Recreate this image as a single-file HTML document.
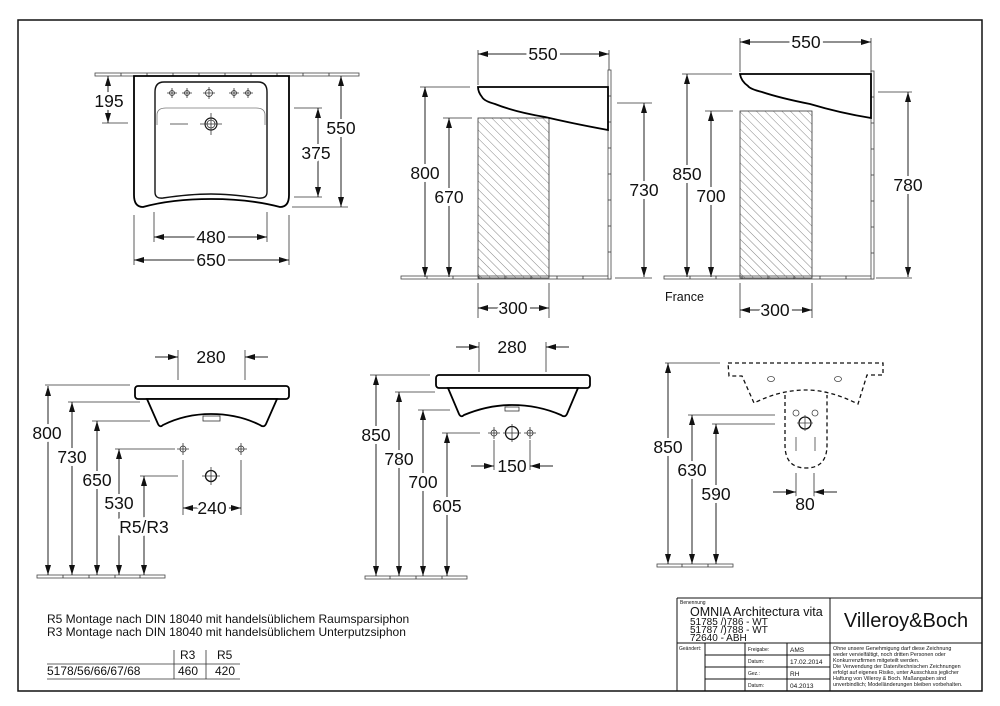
<!DOCTYPE html>
<html><head><meta charset="utf-8"><style>
html,body{margin:0;padding:0;background:#fff;}
svg{display:block;}
text{font-family:"Liberation Sans",Arial,sans-serif;fill:#111;}
.d{font-size:17.5px;text-anchor:middle;paint-order:stroke;stroke:#fff;stroke-width:6px;stroke-linejoin:round;}
.dl{stroke:#222;stroke-width:1;fill:none;}
.ex{stroke:#333;stroke-width:0.8;fill:none;}
.thk{stroke:#000;stroke-width:1.8;fill:#fff;}
.tile{fill:#fff;stroke:#444;stroke-width:0.8;}
.hat{fill:url(#h);stroke:#333;stroke-width:0.8;}
.dash{stroke:#111;stroke-width:1.3;fill:none;stroke-dasharray:4 3;}
</style></head><body>
<svg width="1000" height="706" viewBox="0 0 1000 706" xmlns="http://www.w3.org/2000/svg">
<defs>
<marker id="a" viewBox="0 0 10 6" refX="10" refY="3" markerWidth="10" markerHeight="6" markerUnits="userSpaceOnUse" orient="auto-start-reverse"><path d="M0,0L10,3L0,6z" fill="#111"/></marker>
<pattern id="h" width="6" height="6" patternUnits="userSpaceOnUse" patternTransform="rotate(-45)"><line x1="0" y1="0" x2="0" y2="6" stroke="#666" stroke-width="0.8"/></pattern>
</defs>
<rect x="18" y="20" width="964" height="671" fill="none" stroke="#111" stroke-width="1.5"/>

<!-- TOP LEFT PLAN -->
<g>
<rect class="tile" x="95" y="73" width="264" height="3"/>
<path class="ex" d="M121 73v3M147 73v3M173 73v3M199 73v3M225 73v3M251 73v3M277 73v3M303 73v3M329 73v3"/>
<path class="thk" d="M134 76H289V195Q289 207 280 207Q250 199 211 199Q172 199 143 207Q134 207 134 195Z"/>
<path d="M164 82H258Q267 82 267 92V192Q267 199 258 198Q230 194 211 194Q190 194 163 198Q155 199 155 192V92Q155 82 164 82Z" fill="none" stroke="#111" stroke-width="1.4"/>
<path d="M157 125V115Q157 108 166 108H256Q265 108 265 115V125" fill="none" stroke="#777" stroke-width="0.8"/>
<g fill="none" stroke="#333" stroke-width="0.8">
<circle cx="172" cy="93" r="2.5"/><circle cx="187" cy="93" r="2.5"/><circle cx="209" cy="93" r="3.5"/><circle cx="234" cy="93" r="2.5"/><circle cx="248" cy="93" r="2.5"/>
<path d="M167 93h10M172 88v10M182 93h10M187 88v10M203 93h12M209 87v12M229 93h10M234 88v10M243 93h10M248 88v10"/>
<circle cx="211" cy="124" r="6" stroke="#111" stroke-width="1.2"/><circle cx="211" cy="124" r="4"/>
<path d="M200 124h22M211 113v22M170 124h18" stroke="#333"/>
</g>
<path class="ex" d="M102 123H128M294 108H322M294 197H322M292 207H348M154 212V242M267 212V242M134 215V265M289 215V265"/>
<line class="dl" x1="108" y1="76" x2="108" y2="123" marker-start="url(#a)" marker-end="url(#a)"/>
<text class="d" x="109" y="107">195</text>
<line class="dl" x1="341" y1="76" x2="341" y2="207" marker-start="url(#a)" marker-end="url(#a)"/>
<text class="d" x="341" y="134">550</text>
<line class="dl" x1="318" y1="108" x2="318" y2="197" marker-start="url(#a)" marker-end="url(#a)"/>
<text class="d" x="316" y="159">375</text>
<line class="dl" x1="154" y1="237" x2="267" y2="237" marker-start="url(#a)" marker-end="url(#a)"/>
<text class="d" x="211" y="243">480</text>
<line class="dl" x1="134" y1="260" x2="289" y2="260" marker-start="url(#a)" marker-end="url(#a)"/>
<text class="d" x="211" y="266">650</text>
</g>

<!-- TOP MIDDLE SIDE -->
<g>
<rect class="tile" x="401" y="276" width="210" height="3"/>
<path class="ex" d="M427 276v3M453 276v3M479 276v3M505 276v3M531 276v3M557 276v3M583 276v3"/>
<rect class="tile" x="608" y="70" width="3" height="209"/>
<path class="ex" d="M608 96h3M608 122h3M608 148h3M608 174h3M608 200h3M608 226h3M608 252h3"/>
<rect class="hat" x="478" y="118" width="71" height="160"/>
<path class="thk" d="M478 87H608V130Q575 124 545 117Q515 112 495 104Q484 101 482 97Q478 92 478 87Z"/>
<path class="ex" d="M478 50V85M609 50V70M420 87H470M443 118H472M617 103H652M615 278H652M478 283V318M549 283V318"/>
<line class="dl" x1="478" y1="54" x2="609" y2="54" marker-start="url(#a)" marker-end="url(#a)"/>
<text class="d" x="543" y="60">550</text>
<line class="dl" x1="425" y1="87" x2="425" y2="277" marker-start="url(#a)" marker-end="url(#a)"/>
<text class="d" x="425" y="179">800</text>
<line class="dl" x1="449" y1="118" x2="449" y2="277" marker-start="url(#a)" marker-end="url(#a)"/>
<text class="d" x="449" y="203">670</text>
<line class="dl" x1="644" y1="103" x2="644" y2="277" marker-start="url(#a)" marker-end="url(#a)"/>
<text class="d" x="644" y="196">730</text>
<line class="dl" x1="478" y1="308" x2="549" y2="308" marker-start="url(#a)" marker-end="url(#a)"/>
<text class="d" x="513" y="314">300</text>
</g>

<!-- TOP RIGHT SIDE -->
<g>
<rect class="tile" x="664" y="276" width="209" height="3"/>
<path class="ex" d="M690 276v3M716 276v3M742 276v3M768 276v3M794 276v3M820 276v3M846 276v3"/>
<rect class="tile" x="871" y="71" width="3" height="208"/>
<path class="ex" d="M871 97h3M871 123h3M871 149h3M871 175h3M871 201h3M871 227h3M871 253h3"/>
<rect class="hat" x="740" y="111" width="72" height="167"/>
<path class="thk" d="M740 74H871V118Q840 113 810 104Q780 98 762 92Q750 89 748 86Q741 81 740 74Z"/>
<path class="ex" d="M740 38V72M871 38V72M682 74H732M705 111H733M878 92H912M876 278H912M740 283V318M812 283V318"/>
<line class="dl" x1="740" y1="42" x2="871" y2="42" marker-start="url(#a)" marker-end="url(#a)"/>
<text class="d" x="806" y="48">550</text>
<line class="dl" x1="687" y1="74" x2="687" y2="277" marker-start="url(#a)" marker-end="url(#a)"/>
<text class="d" x="687" y="180">850</text>
<line class="dl" x1="711" y1="111" x2="711" y2="277" marker-start="url(#a)" marker-end="url(#a)"/>
<text class="d" x="711" y="202">700</text>
<line class="dl" x1="908" y1="92" x2="908" y2="277" marker-start="url(#a)" marker-end="url(#a)"/>
<text class="d" x="908" y="191">780</text>
<line class="dl" x1="740" y1="310" x2="812" y2="310" marker-start="url(#a)" marker-end="url(#a)"/>
<text class="d" x="775" y="316">300</text>
<text x="665" y="301" style="font-size:12.5px">France</text>
</g>

<!-- BOTTOM LEFT -->
<g>
<rect class="tile" x="37" y="575" width="128" height="3"/>
<path class="ex" d="M63 575v3M89 575v3M115 575v3M140 575v3"/>
<rect x="135" y="386" width="154" height="13" rx="3" class="thk"/>
<path class="thk" d="M147 399L158 424Q160 428 163 425Q185 414 211 414Q238 414 260 425Q264 428 266 424L277 399Z"/>
<rect x="203" y="416" width="17" height="5" fill="none" stroke="#333" stroke-width="0.8"/>
<path class="ex" d="M178 350V380M245 350V380M45 385H130M68 402H140M92 421H150M115 449H175M140 476H178M183 460V515M241 460V515"/>
<line class="dl" x1="155" y1="357" x2="178" y2="357" marker-end="url(#a)"/>
<line class="dl" x1="268" y1="357" x2="245" y2="357" marker-end="url(#a)"/>
<text class="d" x="211" y="363">280</text>
<g fill="none" stroke="#333" stroke-width="0.8"><circle cx="183" cy="449" r="3"/><path d="M177 449h12M183 443v12"/><circle cx="241" cy="449" r="3"/><path d="M235 449h12M241 443v12"/>
<circle cx="211" cy="476" r="5.5" stroke="#111" stroke-width="1.3"/><path d="M202 476h18M211 467v18"/></g>
<line class="dl" x1="48" y1="386" x2="48" y2="575" marker-start="url(#a)" marker-end="url(#a)"/>
<text class="d" x="47" y="439">800</text>
<line class="dl" x1="72" y1="402" x2="72" y2="575" marker-start="url(#a)" marker-end="url(#a)"/>
<text class="d" x="72" y="463">730</text>
<line class="dl" x1="97" y1="421" x2="97" y2="575" marker-start="url(#a)" marker-end="url(#a)"/>
<text class="d" x="97" y="486">650</text>
<line class="dl" x1="119" y1="449" x2="119" y2="575" marker-start="url(#a)" marker-end="url(#a)"/>
<text class="d" x="119" y="509">530</text>
<line class="dl" x1="144" y1="476" x2="144" y2="575" marker-start="url(#a)" marker-end="url(#a)"/>
<text class="d" x="144" y="533">R5/R3</text>
<line class="dl" x1="183" y1="508" x2="241" y2="508" marker-start="url(#a)" marker-end="url(#a)"/>
<text class="d" x="212" y="514">240</text>
</g>

<!-- BOTTOM MIDDLE -->
<g>
<rect class="tile" x="365" y="576" width="102" height="3"/>
<path class="ex" d="M390 576v3M416 576v3M442 576v3"/>
<rect x="436" y="375" width="154" height="13" rx="3" class="thk"/>
<path class="thk" d="M448 388L459 414Q461 418 464 415Q488 405 512 405Q538 405 561 415Q565 418 567 414L578 388Z"/>
<rect x="505" y="407" width="14" height="4" fill="none" stroke="#333" stroke-width="0.8"/>
<path class="ex" d="M479 342V372M546 342V372M370 375H430M395 392H435M418 410H450M442 433H480M494 440V470M530 440V470"/>
<line class="dl" x1="456" y1="347" x2="479" y2="347" marker-end="url(#a)"/>
<line class="dl" x1="569" y1="347" x2="546" y2="347" marker-end="url(#a)"/>
<text class="d" x="512" y="353">280</text>
<g fill="none" stroke="#333" stroke-width="0.8"><circle cx="494" cy="433" r="3"/><path d="M488 433h12M494 427v12"/><circle cx="530" cy="433" r="3"/><path d="M524 433h12M530 427v12"/>
<circle cx="512" cy="433" r="6.5" stroke="#111" stroke-width="1.3"/><path d="M503 433h18M512 424v18"/></g>
<line class="dl" x1="376" y1="375" x2="376" y2="576" marker-start="url(#a)" marker-end="url(#a)"/>
<text class="d" x="376" y="441">850</text>
<line class="dl" x1="399" y1="392" x2="399" y2="576" marker-start="url(#a)" marker-end="url(#a)"/>
<text class="d" x="399" y="465">780</text>
<line class="dl" x1="423" y1="410" x2="423" y2="576" marker-start="url(#a)" marker-end="url(#a)"/>
<text class="d" x="423" y="488">700</text>
<line class="dl" x1="447" y1="433" x2="447" y2="576" marker-start="url(#a)" marker-end="url(#a)"/>
<text class="d" x="447" y="512">605</text>
<line class="dl" x1="471" y1="466" x2="494" y2="466" marker-end="url(#a)"/>
<line class="dl" x1="553" y1="466" x2="530" y2="466" marker-end="url(#a)"/>
<text class="d" x="512" y="472">150</text>
</g>

<!-- BOTTOM RIGHT -->
<g>
<rect class="tile" x="657" y="564" width="76" height="3"/>
<path class="ex" d="M682 564v3M708 564v3"/>
<path class="dash" d="M728 363H883V375H867L858 404Q830 390 806 390Q780 390 754 403L742 376H729Z"/>
<path class="dash" d="M785 395V445Q785 468 806 468Q827 468 827 445V395"/>
<g fill="none" stroke="#444" stroke-width="0.8"><ellipse cx="771" cy="379" rx="3.5" ry="2.5"/><ellipse cx="838" cy="379" rx="3.5" ry="2.5"/>
<circle cx="796" cy="413" r="3"/><circle cx="815" cy="413" r="3"/>
<circle cx="805" cy="423" r="6" stroke="#111" stroke-width="1.3"/><path d="M797 423h16M805 415v16M796 437v14M815 437v14"/></g>
<path class="ex" d="M665 363H720M688 415H775M712 424H775M796 473V497M814 473V497"/>
<line class="dl" x1="668" y1="363" x2="668" y2="564" marker-start="url(#a)" marker-end="url(#a)"/>
<text class="d" x="668" y="453">850</text>
<line class="dl" x1="692" y1="415" x2="692" y2="564" marker-start="url(#a)" marker-end="url(#a)"/>
<text class="d" x="692" y="476">630</text>
<line class="dl" x1="716" y1="424" x2="716" y2="564" marker-start="url(#a)" marker-end="url(#a)"/>
<text class="d" x="716" y="500">590</text>
<line class="dl" x1="773" y1="492" x2="796" y2="492" marker-end="url(#a)"/>
<line class="dl" x1="837" y1="492" x2="814" y2="492" marker-end="url(#a)"/>
<text class="d" x="805" y="510">80</text>
</g>

<!-- notes -->
<g style="font-size:12px">
<text x="47" y="623">R5  Montage nach DIN 18040 mit handelsüblichem Raumsparsiphon</text>
<text x="47" y="636">R3  Montage nach DIN 18040 mit handelsüblichem Unterputzsiphon</text>
<text x="180" y="659">R3</text><text x="217" y="659">R5</text>
<text x="47" y="675">5178/56/66/67/68</text><text x="178" y="675">460</text><text x="215" y="675">420</text>
</g>
<path class="ex" d="M47 664H240M47 679H240M174 650V679M206 650V679"/>

<!-- title block -->
<g fill="none" stroke="#111" stroke-width="1">
<path d="M677 598H982M677 598V691M830 598V691M677 643H982M705 643V691M745 643V691M787 643V691M705 655H830M705 667H830M705 679H830"/>
</g>
<text x="680" y="604" style="font-size:5px">Benennung</text>
<text x="690" y="616" style="font-size:12.5px">OMNIA Architectura vita</text>
<g style="font-size:10px"><text x="690" y="625">51785 /)786 - WT</text><text x="690" y="633">51787 /)788 - WT</text><text x="690" y="641">72640 - ABH</text></g>
<text x="906" y="627" style="font-size:20px;text-anchor:middle">Villeroy&amp;Boch</text>
<g style="font-size:5px"><text x="679" y="650">Geändert:</text><text x="748" y="651">Freigabe:</text><text x="748" y="663">Datum:</text><text x="748" y="675">Gez.:</text><text x="748" y="687">Datum:</text></g>
<g style="font-size:6.5px"><text x="790" y="652">AMS</text><text x="790" y="664">17.02.2014</text><text x="790" y="676">RH</text><text x="790" y="688">04.2013</text></g>
<g style="font-size:5.4px"><text x="833" y="650">Ohne unsere Genehmigung darf diese Zeichnung</text><text x="833" y="656">weder vervielfältigt, noch dritten Personen oder</text><text x="833" y="662">Konkurrenzfirmen mitgeteilt werden.</text><text x="833" y="668">Die Verwendung der Daten/technischen Zeichnungen</text><text x="833" y="674">erfolgt auf eigenes Risiko, unter Ausschluss jeglicher</text><text x="833" y="680">Haftung von Villeroy &amp; Boch. Maßangaben sind</text><text x="833" y="686">unverbindlich; Modelländerungen bleiben vorbehalten.</text></g>
</svg>
</body></html>
